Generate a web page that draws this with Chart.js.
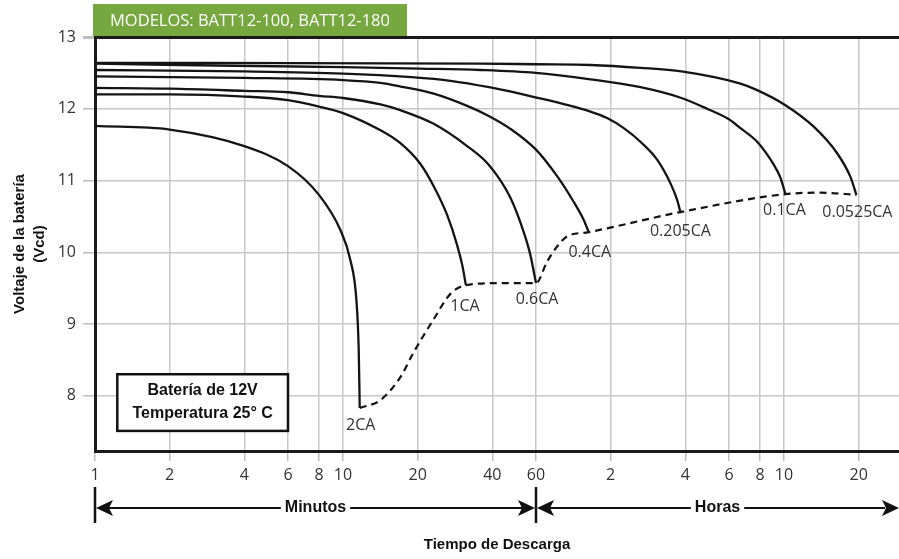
<!DOCTYPE html>
<html>
<head>
<meta charset="utf-8">
<script src="https://cdn.jsdelivr.net/npm/chart.js@4.4.1/dist/chart.umd.min.js"></script>
<style>
    html, body { margin: 0; padding: 0; background: #fff; }
    #wrap { position: relative; width: 899px; height: 559px; }
</style>
</head>
<body>
<div id="wrap"><canvas id="dischargeChart"></canvas></div>
<script>
// tiempo de descarga en minutos, voltaje en Vcd
const t2CA = [1, 2, 4, 6, 8, 9.76, 10.71, 11.32, 11.57, 11.68];
const v2CA = [11.76, 11.71, 11.48, 11.20, 10.80, 10.31, 9.89, 9.34, 8.64, 7.83];

const t1CA = [1, 2, 4, 6, 8, 10, 14.16, 17.04, 20.52, 23.21, 26.29, 28.85, 30.3, 31.3];
const v1CA = [12.20, 12.20, 12.17, 12.12, 12.03, 11.94, 11.70, 11.52, 11.23, 10.92, 10.52, 10.10, 9.81, 9.54];

const t06CA = [1, 2, 4, 6, 8, 10, 14.16, 17.04, 23.21, 31.65, 38.68, 47.32, 53.54, 56.96, 60];
const v06CA = [12.29, 12.28, 12.25, 12.23, 12.18, 12.15, 12.06, 11.98, 11.79, 11.48, 11.22, 10.76, 10.28, 9.96, 9.57];

const t04CA = [1, 4, 10, 14.16, 17.04, 23.21, 31.65, 38.68, 47.32, 60, 73, 85.2, 93.45, 97.9];
const v04CA = [12.45, 12.43, 12.40, 12.36, 12.31, 12.21, 12.04, 11.90, 11.72, 11.43, 11.06, 10.70, 10.45, 10.28];

const t0205CA = [1, 4, 10, 18.87, 27.11, 38.82, 59.68, 99.4, 116.1, 135.5, 158.2, 184.7, 209.1, 222.4, 229.3];
const v0205CA = [12.54, 12.52, 12.49, 12.44, 12.39, 12.30, 12.16, 11.96, 11.87, 11.73, 11.54, 11.29, 10.96, 10.73, 10.56];

const t01CA = [1, 2.21, 10, 20.52, 35.81, 59.68, 99.4, 158.2, 231.4, 293.9, 357.2, 400.3, 467.6, 545.5, 580.3, 607.9];
const v01CA = [12.63, 12.61, 12.58, 12.56, 12.54, 12.50, 12.41, 12.30, 12.15, 12.00, 11.86, 11.73, 11.54, 11.22, 11.04, 10.81];

const t00525CA = [1, 35.81, 59.68, 99.4, 158.2, 231.4, 400.3, 467.6, 607.9, 790.7, 982.4, 1111.7, 1175];
const v00525CA = [12.64, 12.63, 12.62, 12.61, 12.57, 12.52, 12.35, 12.26, 12.05, 11.75, 11.38, 11.05, 10.80];

// voltaje final (línea discontinua)
const tFinal = [11.68, 14.16, 17.04, 19.23, 23.14, 27.11, 31.3, 43.13, 60, 66.53, 73, 80.1, 97.9, 229.3, 607.9, 841.4, 1175];
const vFinal = [7.83, 7.94, 8.26, 8.60, 9.06, 9.42, 9.54, 9.57, 9.57, 9.87, 10.08, 10.22, 10.28, 10.56, 10.81, 10.83, 10.80];

const rateLabels = ['2CA', '1CA', '0.6CA', '0.4CA', '0.205CA', '0.1CA', '0.0525CA'];
const xTickValues = [1, 2, 4, 6, 8, 10, 20, 40, 60, 120, 240, 360, 480, 600, 1200];
const xTickLabels = ['1', '2', '4', '6', '8', '10', '20', '40', '60', '2', '4', '6', '8', '10', '20'];
const yTickValues = [8, 9, 10, 11, 12, 13];

const modelTitle = 'MODELOS: BATT12-100, BATT12-180';
const infoLines = ['Batería de 12V', 'Temperatura 25° C'];
const infoBox = { tLeft: 1.23, tRight: 6.0, vTop: 8.30, vBottom: 7.51 };

const curveTimes = [t2CA, t1CA, t06CA, t04CA, t0205CA, t01CA, t00525CA];
const curveVolts = [v2CA, v1CA, v06CA, v04CA, v0205CA, v01CA, v00525CA];
// desplazamiento de cada etiqueta respecto al final de su curva
const labelDx = [1, -1, 1, 1, 0, -1, 1];
const labelDy = [17, 21, 16, 20, 19, 16, 18];

const toPoints = (t, v) => t.map((x, i) => ({ x: x, y: v[i] }));

const datasets = rateLabels.map((label, i) => ({
    label: label,
    data: toPoints(curveTimes[i], curveVolts[i]),
    borderColor: '#141414',
    borderWidth: 2.3,
    pointRadius: 0,
    fill: false,
    cubicInterpolationMode: 'monotone'
}));
datasets.push({
    label: 'Voltaje final',
    data: toPoints(tFinal, vFinal),
    borderColor: '#141414',
    borderWidth: 2.2,
    borderDash: [7, 5],
    pointRadius: 0,
    fill: false,
    cubicInterpolationMode: 'monotone'
});

function arrowHead(ctx, tipX, y, dir) {
    ctx.beginPath();
    ctx.moveTo(tipX, y);
    ctx.lineTo(tipX + 17 * dir, y - 8);
    ctx.lineTo(tipX + 13 * dir, y);
    ctx.lineTo(tipX + 17 * dir, y + 8);
    ctx.closePath();
    ctx.fill();
}

function spanLabel(ctx, text, cx, y) {
    const w = ctx.measureText(text).width;
    ctx.fillStyle = '#fff';
    ctx.fillRect(cx - w / 2 - 4, y - 10, w + 8, 20);
    ctx.fillStyle = '#111';
    ctx.fillText(text, cx, y);
}

const decorations = {
    id: 'decorations',
    afterDraw(chart) {
        const { ctx, chartArea: area, scales: { x, y } } = chart;
        ctx.save();

        // pestaña verde con los modelos
        ctx.font = '16.5px "Open Sans"';
        const tw = ctx.measureText(modelTitle).width;
        ctx.fillStyle = '#77a73f';
        ctx.fillRect(area.left - 2, 4, tw + 34, area.top - 5);
        ctx.fillStyle = '#fff';
        ctx.textAlign = 'left';
        ctx.textBaseline = 'middle';
        ctx.fillText(modelTitle, area.left + 15, 4 + (area.top - 5) / 2 + 1);

        // cuadro de condiciones
        const bx1 = x.getPixelForValue(infoBox.tLeft), bx2 = x.getPixelForValue(infoBox.tRight);
        const by1 = y.getPixelForValue(infoBox.vTop), by2 = y.getPixelForValue(infoBox.vBottom);
        ctx.fillStyle = '#fff';
        ctx.fillRect(bx1, by1, bx2 - bx1, by2 - by1);
        ctx.lineWidth = 2.5;
        ctx.strokeStyle = '#111';
        ctx.strokeRect(bx1, by1, bx2 - bx1, by2 - by1);
        ctx.fillStyle = '#111';
        ctx.textAlign = 'center';
        ctx.font = 'bold 16px "Liberation Sans"';
        ctx.fillText(infoLines[0], (bx1 + bx2) / 2, by1 + (by2 - by1) * 0.29);
        ctx.fillText(infoLines[1], (bx1 + bx2) / 2, by1 + (by2 - by1) * 0.69);

        // etiquetas de cada curva
        ctx.font = '16px "Open Sans"';
        ctx.fillStyle = '#333';
        rateLabels.forEach((label, i) => {
            const pts = chart.getDatasetMeta(i).data;
            const end = pts[pts.length - 1];
            ctx.fillText(label, end.x + labelDx[i], end.y + labelDy[i]);
        });

        // flechas Minutos / Horas
        const xa = x.getPixelForValue(1);
        const xb = x.getPixelForValue(60);
        const xc = chart.width;
        const ay = 508;
        ctx.strokeStyle = '#111';
        ctx.fillStyle = '#111';
        ctx.lineWidth = 2.5;
        ctx.beginPath();
        ctx.moveTo(xa, 487); ctx.lineTo(xa, 523);
        ctx.moveTo(xb, 487); ctx.lineTo(xb, 523);
        ctx.stroke();
        ctx.lineWidth = 2;
        ctx.beginPath();
        ctx.moveTo(xa + 14, ay); ctx.lineTo(xb - 14, ay);
        ctx.moveTo(xb + 14, ay); ctx.lineTo(xc - 14, ay);
        ctx.stroke();
        arrowHead(ctx, xa + 1, ay, 1);
        arrowHead(ctx, xb - 1, ay, -1);
        arrowHead(ctx, xb + 1, ay, 1);
        arrowHead(ctx, xc, ay, -1);
        ctx.font = 'bold 16px "Liberation Sans"';
        ctx.textAlign = 'center';
        ctx.textBaseline = 'middle';
        spanLabel(ctx, 'Minutos', (xa + xb) / 2, ay);
        spanLabel(ctx, 'Horas', (xb + xc) / 2, ay);

        ctx.restore();
    }
};

Chart.defaults.font.family = '"Open Sans", sans-serif';

new Chart(document.getElementById('dischargeChart'), {
    type: 'line',
    data: { datasets: datasets },
    options: {
        responsive: true,
        maintainAspectRatio: false,
        animation: false,
        layout: { padding: { top: 37, right: 0, bottom: 0, left: 0 } },
        plugins: { legend: { display: false }, tooltip: { enabled: false } },
        scales: {
            x: {
                type: 'logarithmic',
                min: 1,
                max: 1745,
                afterBuildTicks: s => { s.ticks = xTickValues.map(v => ({ value: v })); },
                afterFit: s => { s.height = 108; },
                border: { display: true, color: '#1a1a1a', width: 3 },
                grid: { color: '#c8c8c8', lineWidth: 1.5, tickLength: 10, tickColor: '#bdbdbd' },
                ticks: {
                    autoSkip: false,
                    maxRotation: 0,
                    padding: 5,
                    color: '#333',
                    font: { size: 16 },
                    callback: (value, index) => xTickLabels[index]
                },
                title: {
                    display: true,
                    text: 'Tiempo de Descarga',
                    color: '#111',
                    font: { family: '"Liberation Sans"', size: 15, weight: 'bold' },
                    padding: { top: 0, bottom: 5 }
                }
            },
            y: {
                min: 7.23,
                max: 13,
                afterBuildTicks: s => { s.ticks = yTickValues.map(v => ({ value: v })); },
                afterFit: s => { s.width = 95; },
                border: { display: true, color: '#1a1a1a', width: 3 },
                grid: {
                    color: c => (c.tick && c.tick.value === 13 ? '#1a1a1a' : '#c8c8c8'),
                    lineWidth: c => (c.tick && c.tick.value === 13 ? 3 : 1.5),
                    tickLength: 12,
                    tickColor: '#bdbdbd'
                },
                ticks: { padding: 7, color: '#333', font: { size: 16 } },
                title: {
                    display: true,
                    text: ['Voltaje de la batería', '(Vcd)'],
                    color: '#111',
                    font: { family: '"Liberation Sans"', size: 15, weight: 'bold', lineHeight: '20px' },
                    padding: { top: 10, bottom: 0 }
                }
            }
        }
    },
    plugins: [decorations]
});
</script>
</body>
</html>
